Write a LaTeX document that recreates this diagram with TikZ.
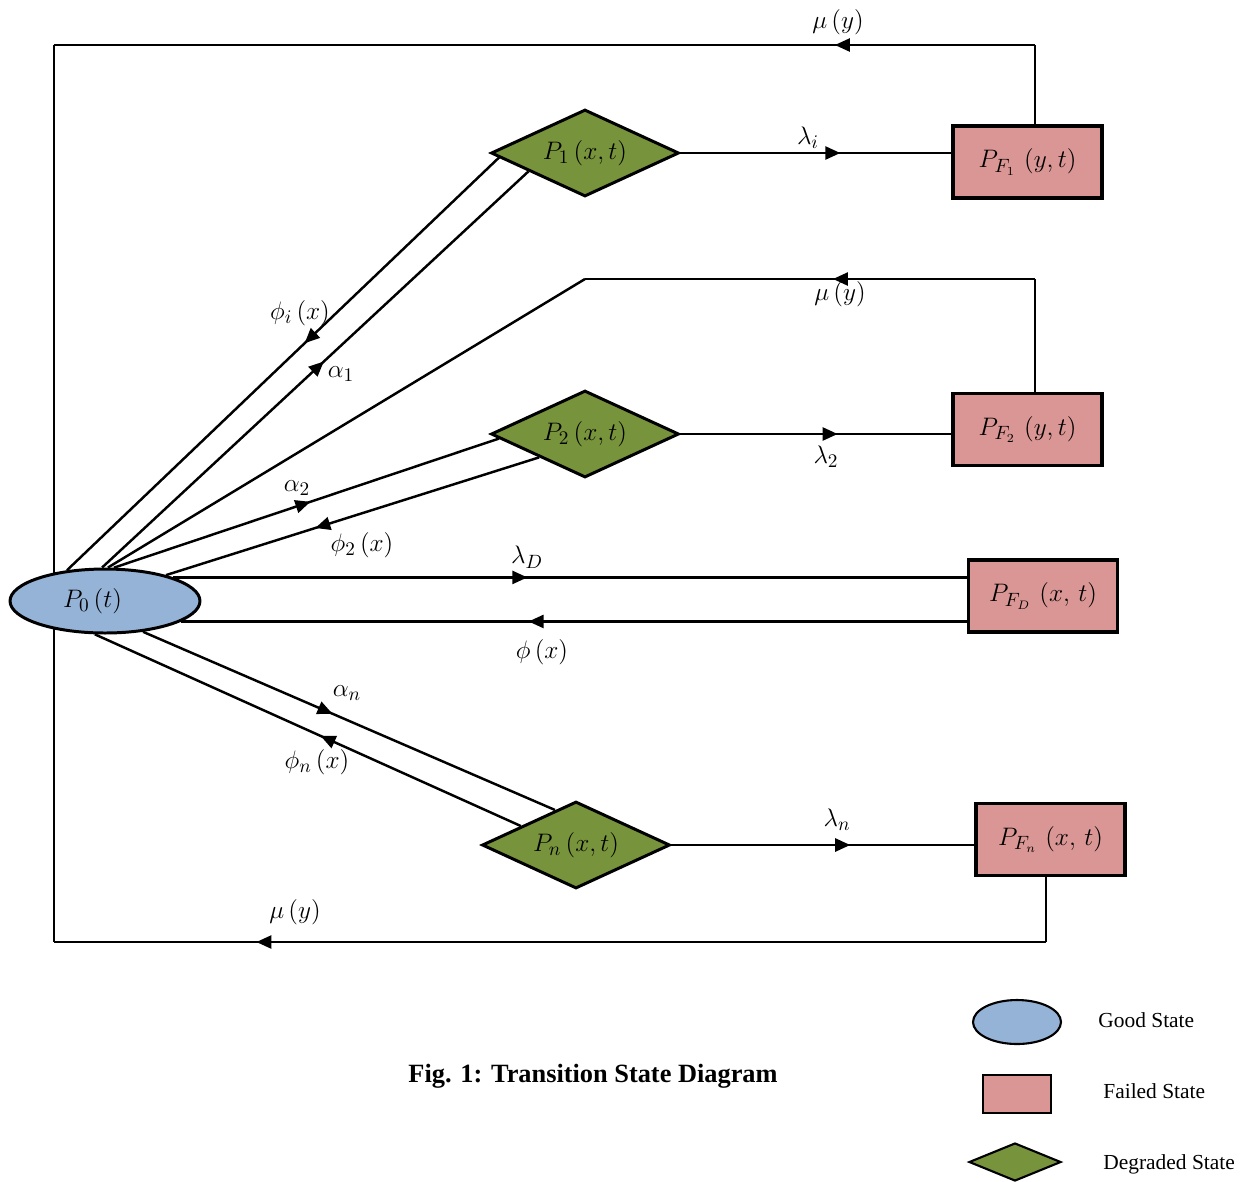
\documentclass[tikz,border=0pt]{standalone}
\usepackage{fontspec}
\setmainfont{Liberation Serif}
\usetikzlibrary{shapes.geometric,arrows.meta,decorations.markings,backgrounds}
\definecolor{goodc}{HTML}{95B3D7}
\definecolor{failc}{HTML}{D99694}
\definecolor{degc}{HTML}{77933C}
\begin{document}
\begin{tikzpicture}[x=0.02cm,y=-0.02cm,
  lab/.style={font=\fontsize{15.5}{18}\selectfont, inner sep=0pt},
  good/.style={ellipse,draw,line width=1.7pt,fill=goodc,inner sep=0pt,minimum width=38mm,minimum height=12.8mm,font=\fontsize{15}{17}\selectfont},
  fail/.style={rectangle,draw,line width=1.8pt,fill=failc,inner sep=0pt,minimum width=29.8mm,minimum height=14.4mm,font=\fontsize{15}{17}\selectfont},
  deg/.style={diamond,draw,line width=1.7pt,fill=degc,inner sep=0pt,aspect=2.16,minimum width=37.6mm,minimum height=17.4mm,font=\fontsize{15}{17}\selectfont},
  conn/.style={line width=1.4pt},
  midarr/.style={postaction={decorate},decoration={markings,mark=at position #1 with {\arrow{Triangle[length=3mm,width=2.6mm]}}}},
  legtext/.style={anchor=west,font=\fontsize{12.2}{14}\selectfont,inner sep=0pt}]
\useasboundingbox (0,0) rectangle (1247,1181);
% states
\node[good] (P0) at (105,601) {$P_0\left(t\right)$\hspace*{5mm}};
\node[deg] (P1) at (585,153) {$P_1\left(x,t\right)$};
\node[deg] (P2) at (585,434) {$P_2\left(x,t\right)$};
\node[deg] (Pn) at (576,845) {$P_n\left(x,t\right)$};
\node[fail] (F1) at (1027.5,162) {$P_{F_1}\,\left(y,t\right)$};
\node[fail] (F2) at (1027.5,429.5) {$P_{F_2}\,\left(y,t\right)$};
\node[fail] (FD) at (1043,596) {$P_{F_D}\,\left(x,\,t\right)$};
\node[fail] (Fn) at (1050.5,839.5) {$P_{F_n}\,\left(x,\,t\right)$};
% corners
\coordinate (tr) at (1035,45);
\coordinate (tl) at (54,45);
\coordinate (bl) at (54,942);
\coordinate (br) at (1046,942);
\coordinate (mr) at (1035,279);
\coordinate (ml) at (585,279);
\begin{scope}[on background layer]
\draw[conn] (tr |- F1.north) -- (tr);
\draw[conn,midarr=0.204] (tr) -- (tl);
\draw[conn] (tl) -- (bl);
\draw[conn] (br |- Fn.south) -- (br);
\draw[conn,midarr=0.796] (br) -- (bl);
\draw[conn] (mr |- F2.north) -- (mr);
\draw[conn,midarr=0.449] (mr) -- (ml);
\draw[conn] (ml) -- (P0.85);
\draw[conn,midarr=0.59] (P1.east) -- (P1.east -| F1.west);
\draw[conn,midarr=0.58] (P2.east) -- (P2.east -| F2.west);
\draw[conn,midarr=0.59] (Pn.east) -- (Pn.east -| Fn.west);
\draw[conn,midarr=0.446] (P0.19) -- (P0.19 -| FD.west);
\draw[conn,midarr=0.558] (P0.345 -| FD.west) -- (P0.345);
\draw[conn,midarr=0.45] (P1.183) -- (P0.141);
\draw[conn,midarr=0.52] (P0.95) -- (P1.198);
\draw[conn,midarr=0.51] (P0.75) -- (P2.183);
\draw[conn,midarr=0.60] (P2.207) -- (P0.23);
\draw[conn,midarr=0.46] (P0.321) -- (Pn.121);
\draw[conn,midarr=0.47] (Pn.161) -- (P0.253);
\end{scope}
% labels
\node[lab] (l1) at (838,22) {$\mu\left(y\right)$};
\node[lab] (l2) at (808,138) {$\lambda_i$};
\node[lab] (l3) at (300,313) {$\phi_i\left(x\right)$};
\node[lab] (l4) at (341,374) {$\alpha_1$};
\node[lab] (l5) at (840,294) {$\mu\left(y\right)$};
\node[lab] (l6) at (297,488) {$\alpha_2$};
\node[lab] (l7) at (826,457) {$\lambda_2$};
\node[lab] (l8) at (362,545) {$\phi_2\left(x\right)$};
\node[lab] (l9) at (527,557) {$\lambda_D$};
\node[lab] (l10) at (542,652) {$\phi\left(x\right)$};
\node[lab] (l11) at (347,693) {$\alpha_n$};
\node[lab] (l12) at (317,762) {$\phi_n\left(x\right)$};
\node[lab] (l13) at (837,820) {$\lambda_n$};
\node[lab] (l14) at (295,912) {$\mu\left(y\right)$};
% legend
\node[good,minimum width=17.6mm,minimum height=8.8mm,line width=1.2pt] (LG) at (1017,1022) {};
\node[fail,minimum width=13.6mm,minimum height=7.6mm,line width=1.2pt] (LF) at (1017,1094) {};
\node[deg,minimum width=18.4mm,minimum height=7.6mm,line width=1.2pt] (LD) at (1015,1162) {};
\node[legtext] (tG) at (1098,1020) {Good State};
\node[legtext] (tF) at (1103,1091) {Failed State};
\node[legtext] (tD) at (1103,1164) {Degraded State};
\node[font=\bfseries\fontsize{15}{17}\selectfont] (cap) at (593,1076) {Fig. 1: Transition State Diagram};
\end{tikzpicture}
\end{document}
